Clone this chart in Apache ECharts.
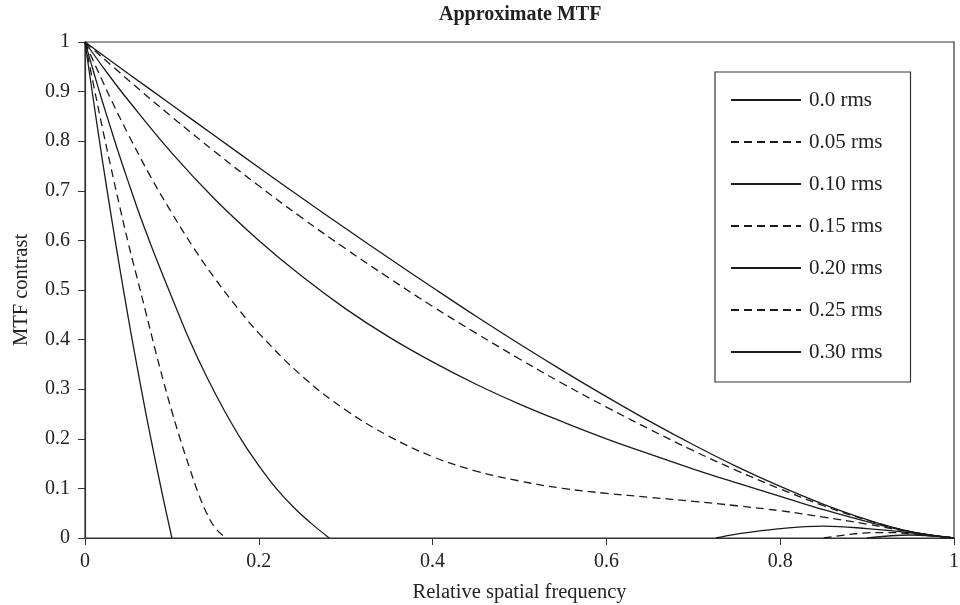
<!DOCTYPE html>
<html>
<head>
<meta charset="utf-8">
<title>Approximate MTF</title>
<script src="https://cdn.jsdelivr.net/npm/echarts@6/dist/echarts.min.js"></script>
<style>
  html, body { margin: 0; padding: 0; background: #fff; }
  #chart { width: 960px; height: 605px; }
</style>
</head>
<body>
<div id="chart"></div>
<script>
// values: [relative spatial frequency, MTF contrast]
// null splits a curve where it sits on the zero axis
const seriesNames = ['0.0 rms', '0.05 rms', '0.10 rms', '0.15 rms', '0.20 rms', '0.25 rms', '0.30 rms'];
const dashed = [false, true, false, true, false, true, false];

const rms000 = [[0,1],[0.05,0.936],[0.1,0.873],[0.15,0.81],[0.2,0.747],[0.25,0.685],[0.3,0.624],[0.35,0.564],
  [0.4,0.505],[0.45,0.447],[0.5,0.391],[0.55,0.337],[0.6,0.285],[0.65,0.235],[0.7,0.188],[0.75,0.144],
  [0.8,0.104],[0.85,0.068],[0.9,0.037],[0.95,0.013],[1,0]];
const rms005 = [[0,1],[0.05,0.923],[0.1,0.849],[0.15,0.778],[0.2,0.71],[0.25,0.645],[0.3,0.583],[0.35,0.524],
  [0.4,0.467],[0.45,0.413],[0.5,0.361],[0.55,0.311],[0.6,0.264],[0.65,0.219],[0.7,0.176],[0.75,0.136],
  [0.8,0.099],[0.85,0.065],[0.9,0.036],[0.95,0.013],[1,0]];
const rms010 = [[0,1],[0.025,0.939],[0.05,0.882],[0.1,0.776],[0.15,0.682],[0.2,0.6],[0.25,0.527],[0.3,0.462],
  [0.35,0.405],[0.4,0.355],[0.45,0.31],[0.5,0.27],[0.55,0.234],[0.6,0.2],[0.65,0.169],[0.7,0.139],
  [0.75,0.111],[0.8,0.084],[0.85,0.057],[0.9,0.033],[0.95,0.0125],[1,0]];
const rms015 = [[0,1],[0.01,0.96],[0.02,0.922],[0.03,0.884],[0.05,0.813],[0.075,0.73],[0.1,0.655],[0.125,0.585],
  [0.15,0.522],[0.175,0.465],[0.2,0.413],[0.25,0.326],[0.3,0.258],[0.35,0.205],[0.4,0.164],[0.45,0.135],
  [0.5,0.115],[0.55,0.1],[0.6,0.09],[0.65,0.082],[0.7,0.074],[0.75,0.065],[0.8,0.055],[0.85,0.042],
  [0.9,0.028],[0.95,0.012],[1,0]];
const rms020 = [[0,1],[0.01,0.939],[0.02,0.88],[0.03,0.824],[0.04,0.769],[0.05,0.717],[0.06,0.666],[0.07,0.618],
  [0.08,0.572],[0.1,0.485],[0.12,0.4],[0.14,0.325],[0.16,0.258],[0.18,0.198],[0.2,0.146],[0.22,0.1],
  [0.24,0.062],[0.26,0.03],[0.281,0],null,[0.726,0],[0.75,0.008],[0.8,0.019],[0.85,0.024],[0.9,0.019],
  [0.95,0.0105],[1,0]];
const rms025 = [[0,1],[0.01,0.912],[0.02,0.827],[0.03,0.746],[0.04,0.668],[0.05,0.593],[0.06,0.524],[0.07,0.455],
  [0.08,0.385],[0.09,0.318],[0.1,0.255],[0.11,0.197],[0.12,0.143],[0.13,0.092],[0.14,0.05],[0.15,0.02],
  [0.162,0],null,[0.85,0],[0.875,0.006],[0.9,0.0105],[0.925,0.011],[0.95,0.0085],[0.975,0.004],[1,0]];
const rms030 = [[0,1],[0.01,0.879],[0.02,0.762],[0.03,0.651],[0.04,0.544],[0.05,0.442],[0.06,0.345],[0.07,0.252],
  [0.08,0.164],[0.09,0.08],[0.1,0],null,[0.9,0],[0.95,0.006],[1,0]];

const curves = [rms000, rms005, rms010, rms015, rms020, rms025, rms030];

const font = 'Liberation Serif';
let chartDom = document.getElementById('chart');
let myChart = echarts.init(chartDom);
let option;

option = {
  animation: false,
  backgroundColor: '#fff',
  textStyle: { fontFamily: font, color: '#222' },
  title: {
    text: 'Approximate MTF',
    left: 434,
    top: 0,
    textStyle: { fontFamily: font, fontSize: 20, fontWeight: 'bold', color: '#222' }
  },
  legend: {
    orient: 'vertical',
    left: 715,
    top: 72,
    padding: [17, 28, 19, 15],
    itemWidth: 70,
    itemHeight: 14,
    itemGap: 20,
    borderColor: '#333',
    borderWidth: 1.2,
    backgroundColor: '#fff',
    itemStyle: { opacity: 0 },
    data: seriesNames,
    textStyle: { fontFamily: font, fontSize: 21, color: '#222', lineHeight: 22, padding: [0, 0, 0, 3] }
  },
  grid: {
    left: 85,
    right: 6,
    top: 42,
    bottom: 67,
    outerBoundsMode: 'none',
    show: true,
    borderColor: '#333',
    borderWidth: 1.2
  },
  xAxis: {
    type: 'value',
    min: 0,
    max: 1,
    interval: 0.2,
    name: 'Relative spatial frequency',
    nameLocation: 'middle',
    nameGap: 44,
    nameTextStyle: { fontFamily: font, fontSize: 20.5, color: '#222' },
    axisLine: { lineStyle: { color: '#333', width: 1.2 } },
    axisTick: { show: true, length: 7, lineStyle: { color: '#333' } },
    axisLabel: { fontFamily: font, fontSize: 20, color: '#222', margin: 14 },
    splitLine: { show: false }
  },
  yAxis: {
    type: 'value',
    min: 0,
    max: 1,
    interval: 0.1,
    name: 'MTF contrast',
    nameLocation: 'middle',
    nameGap: 53,
    nameTextStyle: { fontFamily: font, fontSize: 20.5, color: '#222' },
    axisLine: { show: true, lineStyle: { color: '#333', width: 1.2 } },
    axisTick: { show: true, length: 7, lineStyle: { color: '#333' } },
    axisLabel: { fontFamily: font, fontSize: 20, color: '#222', margin: 15 },
    splitLine: { show: false }
  },
  series: seriesNames.map((name, i) => ({
    name: name,
    type: 'line',
    data: curves[i],
    symbol: 'none',
    smooth: 0.4,
    connectNulls: false,
    clip: true,
    lineStyle: { color: '#1a1a1a', width: 1.3, type: dashed[i] ? [8, 5] : 'solid' },
    itemStyle: { color: '#1a1a1a' }
  }))
};

option && myChart.setOption(option);
</script>
</body>
</html>
